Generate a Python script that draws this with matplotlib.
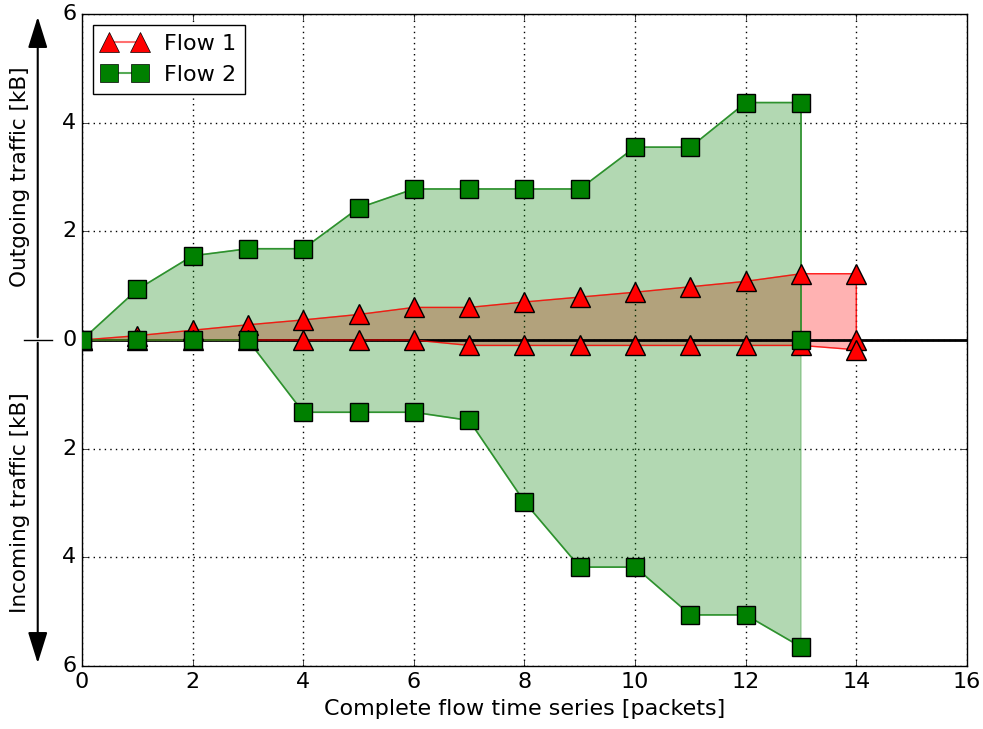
import matplotlib
matplotlib.use('Agg')
import matplotlib.pyplot as plt
import numpy as np

plt.style.use('classic')

# Flow 1 (red triangles)
f1_out_x = [0, 1, 2, 3, 4, 5, 6, 7, 8, 9, 10, 11, 12, 13, 14, 14]
f1_out_y = [0, 0.08, 0.18, 0.28, 0.37, 0.47, 0.6, 0.6, 0.7, 0.79, 0.88, 0.98, 1.08, 1.22, 1.22, 0]
f1_in_x = [0, 1, 2, 3, 4, 5, 6, 7, 8, 9, 10, 11, 12, 13, 14]
f1_in_y = [0, 0, 0, 0, 0, 0, 0, -0.1, -0.1, -0.1, -0.1, -0.1, -0.1, -0.1, -0.18]

# Flow 2 (green squares)
f2_out_x = [0, 1, 2, 3, 4, 5, 6, 7, 8, 9, 10, 11, 12, 13, 13]
f2_out_y = [0, 0.93, 1.55, 1.68, 1.68, 2.43, 2.78, 2.78, 2.78, 2.78, 3.55, 3.55, 4.37, 4.37, 0]
f2_in_x = [0, 1, 2, 3, 4, 5, 6, 7, 8, 9, 10, 11, 12, 13]
f2_in_y = [0, 0, 0, 0, -1.33, -1.33, -1.33, -1.48, -2.98, -4.18, -4.18, -5.06, -5.06, -5.65]

yticks = [-6, -4, -2, 0, 2, 4, 6]

fig = plt.figure(figsize=(9.83, 7.29), dpi=100, facecolor='white')
ax = fig.add_axes([0.0834, 0.0864, 0.9003, 0.8944])

# fills (red first, green on top)
px = f1_out_x + f1_in_x[::-1]
py = f1_out_y + f1_in_y[::-1]
ax.fill(px, py, color='red', alpha=0.3, edgecolor='red', linewidth=1, zorder=2)
px = f2_out_x + f2_in_x[::-1]
py = f2_out_y + f2_in_y[::-1]
ax.fill(px, py, color='green', alpha=0.3, edgecolor='green', linewidth=1, zorder=3)

ax.axhline(0, color='black', linewidth=2, zorder=4)

# lines
for x, y in [(f1_out_x, f1_out_y), (f1_in_x, f1_in_y)]:
    ax.plot(x, y, color='red', alpha=0.8, linewidth=1, zorder=5)
for x, y in [(f2_out_x, f2_out_y), (f2_in_x, f2_in_y)]:
    ax.plot(x, y, color='#228b22', alpha=0.9, linewidth=1.2, zorder=5)

# markers: red below green
for x, y in [(f1_out_x, f1_out_y), (f1_in_x, f1_in_y)]:
    ax.plot(x, y, linestyle='none', color='red', marker='^', markersize=14,
            markeredgewidth=1, zorder=6)
for x, y in [(f2_out_x, f2_out_y), (f2_in_x, f2_in_y)]:
    ax.plot(x, y, linestyle='none', color='green', marker='s', markersize=13,
            markeredgewidth=1, zorder=7)

# legend proxies
h1, = ax.plot([], [], color='#ff7070', marker='^', markersize=14,
              markerfacecolor='red', markeredgecolor='black', linewidth=1.5)
h2, = ax.plot([], [], color='#55aa55', marker='s', markersize=13,
              markerfacecolor='green', markeredgecolor='black', linewidth=1.5)
leg = ax.legend([h1, h2], ['Flow 1', 'Flow 2'], loc='upper left', numpoints=2,
                fontsize=16, fancybox=False, borderpad=0.4, handlelength=2.0)

ax.set_xlim(0, 16)
ax.set_ylim(-6, 6)
ax.set_yticks(yticks)
ax.set_yticklabels([str(abs(t)) for t in yticks])
ax.tick_params(labelsize=16)
ax.grid(True, color='black', linestyle=':', linewidth=1)
ax.set_xlabel('Complete flow time series [packets]', fontsize=16)

# y-axis arrows and labels
xa = -0.05
ax.annotate('', xy=(xa, 1.0), xytext=(xa, 0.5), xycoords='axes fraction',
            arrowprops=dict(arrowstyle='-|>,head_length=1.6,head_width=0.5',
                            color='black', lw=1.5), annotation_clip=False)
ax.annotate('', xy=(xa, 0.0), xytext=(xa, 0.5), xycoords='axes fraction',
            arrowprops=dict(arrowstyle='-|>,head_length=1.6,head_width=0.5',
                            color='black', lw=1.5), annotation_clip=False)
ax.plot([-0.066, -0.034], [0.5, 0.5], transform=ax.transAxes, color='black',
        linewidth=1, clip_on=False)
ax.text(-0.07, 0.75, 'Outgoing traffic [kB]', transform=ax.transAxes, rotation=90,
        ha='center', va='center', fontsize=15.5)
ax.text(-0.07, 0.25, 'Incoming traffic [kB]', transform=ax.transAxes, rotation=90,
        ha='center', va='center', fontsize=15.5)

fig.savefig('out.png', dpi=100, facecolor='white')
